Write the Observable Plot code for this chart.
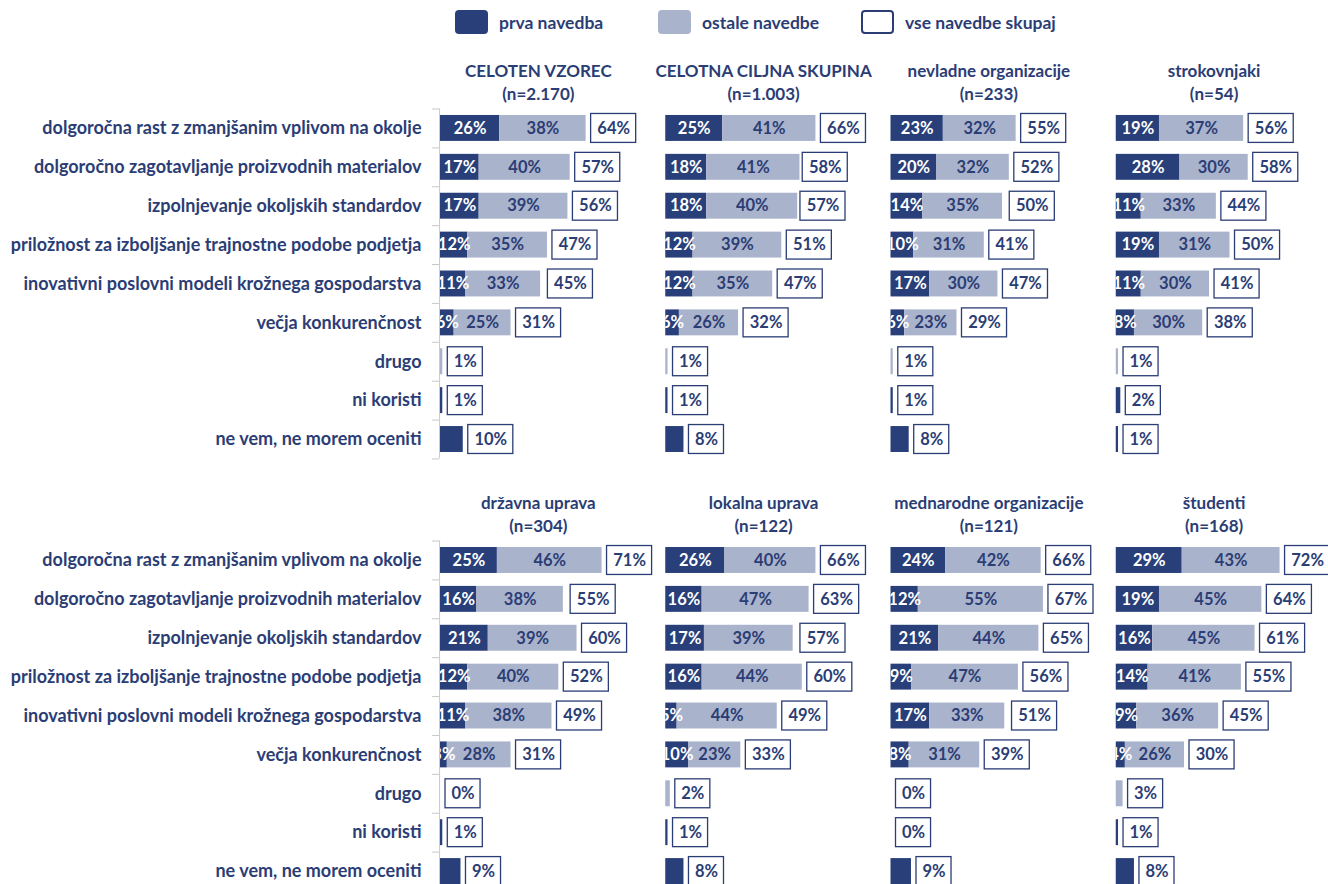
<!DOCTYPE html>
<html><head><meta charset="utf-8">
<script src="https://cdn.jsdelivr.net/npm/d3@7"></script>
<script src="https://cdn.jsdelivr.net/npm/@observablehq/plot@0.6"></script>
<style>
body{margin:0;background:#fff;overflow:hidden;font-family:Lato,"Open Sans",sans-serif;}
#legend{position:relative;height:45px;}
#chart svg{max-width:none !important;display:block;}
.item{position:absolute;top:10px;display:flex;align-items:center;font-weight:bold;font-size:17.5px;color:#2b3d75;white-space:nowrap;}
.sw{width:33px;height:24px;border-radius:4px;box-sizing:border-box;margin-right:11px;}
</style></head><body>
<div id="legend"></div>
<div id="chart"></div>
<script>
// ---------- data ----------
const categories = [
  "dolgoročna rast z zmanjšanim vplivom na okolje",
  "dolgoročno zagotavljanje proizvodnih materialov",
  "izpolnjevanje okoljskih standardov",
  "priložnost za izboljšanje trajnostne podobe podjetja",
  "inovativni poslovni modeli krožnega gospodarstva",
  "večja konkurenčnost",
  "drugo",
  "ni koristi",
  "ne vem, ne morem oceniti"
];
const groups = ["CELOTEN VZOREC", "CELOTNA CILJNA SKUPINA", "nevladne organizacije", "strokovnjaki",
                "državna uprava", "lokalna uprava", "mednarodne organizacije", "študenti"];
const groupN = ["(n=2.170)", "(n=1.003)", "(n=233)", "(n=54)", "(n=304)", "(n=122)", "(n=121)", "(n=168)"];
const series = ["prva navedba", "ostale navedbe", "vse navedbe skupaj"];

// prva navedba (first mention), per group, per category
const prva = [
  [26, 17, 17, 12, 11, 6, 0, 1, 10],
  [25, 18, 18, 12, 12, 6, 0, 1, 8],
  [23, 20, 14, 10, 17, 6, 0, 1, 8],
  [19, 28, 11, 19, 11, 8, 0, 2, 1],
  [25, 16, 21, 12, 11, 3, 0, 1, 9],
  [26, 16, 17, 16, 5, 10, 0, 1, 8],
  [24, 12, 21, 9, 17, 8, 0, 0, 9],
  [29, 19, 16, 14, 9, 4, 0, 1, 8]
];
// ostale navedbe (other mentions)
const ostale = [
  [38, 40, 39, 35, 33, 25, 1, 0, 0],
  [41, 41, 40, 39, 35, 26, 1, 0, 0],
  [32, 32, 35, 31, 30, 23, 1, 0, 0],
  [37, 30, 33, 31, 30, 30, 1, 0, 0],
  [46, 38, 39, 40, 38, 28, 0, 0, 0],
  [40, 47, 39, 44, 44, 23, 2, 0, 0],
  [42, 55, 44, 47, 33, 31, 0, 0, 0],
  [43, 45, 45, 41, 36, 26, 3, 0, 0]
];
// vse navedbe skupaj (total)
const skupaj = [
  [64, 57, 56, 47, 45, 31, 1, 1, 10],
  [66, 58, 57, 51, 47, 32, 1, 1, 8],
  [55, 52, 50, 41, 47, 29, 1, 1, 8],
  [56, 58, 44, 50, 41, 38, 1, 2, 1],
  [71, 55, 60, 52, 49, 31, 0, 1, 9],
  [66, 63, 57, 60, 49, 33, 2, 1, 8],
  [66, 67, 65, 56, 51, 39, 0, 0, 9],
  [72, 64, 61, 55, 45, 30, 3, 1, 8]
];

// ---------- styles ----------
const DARK = "#283f7a", LIGHT = "#aab3cc", NAVY = "#2b3d75", AXIS = "#c8c8c8";
const LABELLED = 6;        // segments of the first six answers carry labels
const GAP = 2.2;           // gap between bar and total box (in % units)
const BOX2 = 19.8, BOX1 = 15.4; // total box width for 2-digit / 1-digit values (in % units)
const HEADER_X = 43;

// legend
const legend = document.getElementById("legend");
const legendSpec = [
  {left: 455, style: `background:${DARK}`},
  {left: 658, style: `background:${LIGHT}`},
  {left: 861, style: `background:#fff;border:2px solid ${NAVY}`}
];
series.forEach((s, i) => {
  const it = document.createElement("div");
  it.className = "item";
  it.style.left = legendSpec[i].left + "px";
  it.innerHTML = `<div class="sw" style="${legendSpec[i].style}"></div>${s}`;
  legend.appendChild(it);
});

// ---------- tables ----------
const segs = [], totals = [], heads = [];
groups.forEach((g, gi) => {
  const col = gi % 4, row = Math.floor(gi / 4);
  heads.push({name: g, n: groupN[gi], col, row});
  categories.forEach((c, ci) => {
    const a = prva[gi][ci], b = ostale[gi][ci];
    segs.push({cat: c, ci, col, row, series: series[0], value: a, mid: a / 2});
    segs.push({cat: c, ci, col, row, series: series[1], value: b, mid: a + b / 2});
    const t = skupaj[gi][ci];
    totals.push({cat: c, col, row, total: t, w: t >= 10 ? BOX2 : BOX1});
  });
});
const axisRows = [0, 1].map(row => ({col: 0, row}));
const tickTop = [], tickBottom = [];
axisRows.forEach(r => {
  categories.forEach(c => tickTop.push({...r, cat: c}));
  tickBottom.push({...r, cat: categories[categories.length - 1]});
});

const chart = Plot.plot({
  width: 1341, height: 860,
  marginLeft: 440, marginRight: 0, marginTop: 63.5, marginBottom: 14.5,
  style: {fontFamily: "Lato, 'Open Sans', sans-serif", fontSize: "18px", fontWeight: "bold", color: NAVY, background: "white", overflow: "visible"},
  x: {domain: [0, 99], axis: null},
  y: {domain: categories, paddingInner: 0.333, paddingOuter: 0.1665, round: false, tickSize: 0, tickPadding: 19, label: null},
  fx: {domain: [0, 1, 2, 3], paddingInner: 0, paddingOuter: 0, round: false, axis: null},
  fy: {domain: [0, 1], paddingInner: 0.19, paddingOuter: 0, round: false, axis: null},
  color: {domain: series.slice(0, 2), range: [DARK, LIGHT]},
  marks: [
    Plot.ruleX(axisRows, {x: () => -0.4, fx: "col", fy: "row", stroke: AXIS, strokeWidth: 1}),
    Plot.ruleY(tickTop, {y: "cat", dy: -19.45, x1: () => -3.5, x2: () => -0.4, fx: "col", fy: "row", stroke: AXIS}),
    Plot.ruleY(tickBottom, {y: "cat", dy: 19.45, x1: () => -3.5, x2: () => -0.4, fx: "col", fy: "row", stroke: AXIS}),
    Plot.barX(segs, {x: "value", y: "cat", fill: "series", fx: "col", fy: "row"}),
    Plot.barX(totals, {x1: d => d.total + GAP, x2: d => d.total + GAP + d.w, y: "cat", fx: "col", fy: "row",
      fill: "white", stroke: NAVY, strokeWidth: 1.3, insetTop: -1.5, insetBottom: -1.5}),
    Plot.text(totals, {x: d => d.total + GAP + d.w / 2, y: "cat", text: d => d.total + "%", fx: "col", fy: "row",
      fill: NAVY, fontSize: 16.5, fontWeight: "bold"}),
    Plot.text(segs.filter(d => d.series === series[0] && d.ci < LABELLED), {x: "mid", y: "cat", text: d => d.value + "%",
      fx: "col", fy: "row", fill: "white", fontSize: 16.5, fontWeight: "bold", clip: "frame"}),
    Plot.text(segs.filter(d => d.series === series[1] && d.ci < LABELLED), {x: "mid", y: "cat", text: d => d.value + "%",
      fx: "col", fy: "row", fill: NAVY, fontSize: 16.5, fontWeight: "bold", clip: "frame"}),
    Plot.text(heads, {x: () => HEADER_X, frameAnchor: "top", lineAnchor: "middle", dy: -37.5, text: "name", fx: "col", fy: "row",
      fill: NAVY, fontSize: 17, fontWeight: "bold"}),
    Plot.text(heads, {x: () => HEADER_X, frameAnchor: "top", lineAnchor: "middle", dy: -14.5, text: "n", fx: "col", fy: "row",
      fill: NAVY, fontSize: 17, fontWeight: "bold"})
  ]
});
document.getElementById("chart").appendChild(chart);
</script>
</body></html>
